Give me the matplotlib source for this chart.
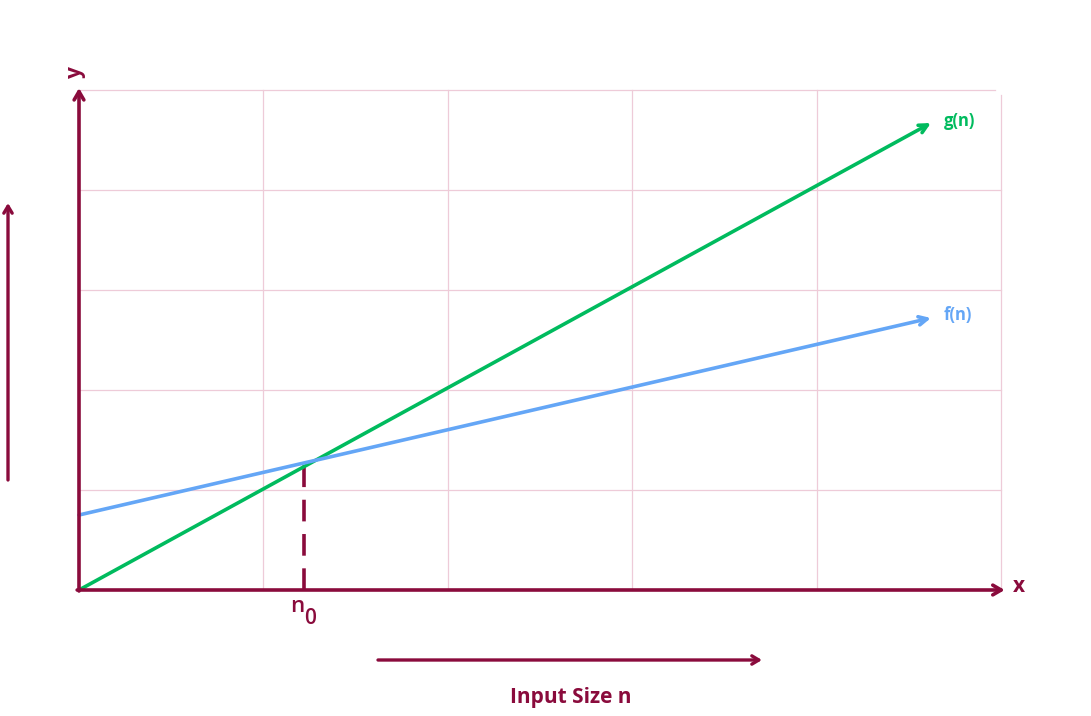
import matplotlib.pyplot as plt

# line end points (data units, grid cells of 1)
n_vals = [0, 4.62]
g_vals = [0, 4.67]
f_vals = [0.75, 2.72]
n0 = 1.22
n0_y = 1.26

maroon = '#8a0b3c'
green = '#00bb5e'
blue = '#64a6f6'
gridc = '#eecbd8'

plt.rcParams['font.family'] = ['Open Sans', 'DejaVu Sans']

fig = plt.figure(figsize=(10.91, 7.16), dpi=100)
W, H = 1091, 716
ax = fig.add_axes([79 / W, 1 - 590 / H, (1001 - 79) / W, (590 - 90) / H])
ax.set_xlim(0, 5)
ax.set_ylim(0, 5)
ax.axis('off')

# grid
for i in range(1, 6):
    ax.plot([i, i], [0, 4.95 if i == 5 else 5], color=gridc, lw=0.9, clip_on=False, zorder=1)
    ax.plot([0, 4.97 if i == 5 else 5], [i, i], color=gridc, lw=0.9, clip_on=False, zorder=1)

# axes with arrows
arrow = dict(arrowstyle='->,head_length=0.6,head_width=0.35', color=maroon, lw=2.6,
             shrinkA=0, shrinkB=0)
ax.annotate('', xy=(5.02, 0), xytext=(-0.01, 0), arrowprops=arrow, annotation_clip=False, zorder=4)
ax.annotate('', xy=(0, 5.02), xytext=(0, -0.01), arrowprops=arrow, annotation_clip=False, zorder=4)
ax.text(5.095, 0.03, 'x', color=maroon, fontsize=15, fontweight='bold', ha='center', va='center')
ax.text(-0.02, 5.18, 'y', color=maroon, fontsize=15, fontweight='bold', ha='center', va='center',
        rotation=90)

# g(n) and f(n)
ax.annotate('', xy=(n_vals[1], g_vals[1]), xytext=(n_vals[0], g_vals[0]),
            arrowprops=dict(arrowstyle='->,head_length=0.6,head_width=0.3', color=green, lw=2.6,
                            shrinkA=0, shrinkB=0), zorder=3)
ax.annotate('', xy=(n_vals[1], f_vals[1]), xytext=(n_vals[0], f_vals[0]),
            arrowprops=dict(arrowstyle='->,head_length=0.6,head_width=0.3', color=blue, lw=2.6,
                            shrinkA=0, shrinkB=0), zorder=3)
ax.text(n_vals[1] + 0.07, g_vals[1] + 0.02, 'g(n)', color=green, fontsize=12, fontweight='bold',
        ha='left', va='center')
ax.text(n_vals[1] + 0.07, f_vals[1] + 0.03, 'f(n)', color=blue, fontsize=12, fontweight='bold',
        ha='left', va='center')

# n0 marker
ax.plot([n0, n0], [0, n0_y], color=maroon, lw=2.6, dashes=(6, 3.5), zorder=2)
ax.text(n0, -0.16, 'n', color=maroon, fontsize=16, fontweight='semibold',
        ha='right', va='center')
ax.text(n0, -0.28, '0', color=maroon, fontsize=15, fontweight='semibold',
        ha='left', va='center')

# side arrows in figure pixels
side = dict(arrowstyle='->,head_length=0.5,head_width=0.3', color=maroon, lw=2.4,
            shrinkA=0, shrinkB=0)
ax.annotate('', xy=(8, H - 203), xytext=(8, H - 480), xycoords='figure pixels',
            arrowprops=side, annotation_clip=False)
ax.annotate('', xy=(762, H - 660), xytext=(378, H - 660), xycoords='figure pixels',
            arrowprops=side, annotation_clip=False)
fig.text(571 / W, 1 - 697 / H, 'Input Size n', color=maroon, fontsize=15, fontweight='bold',
         ha='center', va='center')

fig.savefig('out.png', dpi=100, facecolor='white')
